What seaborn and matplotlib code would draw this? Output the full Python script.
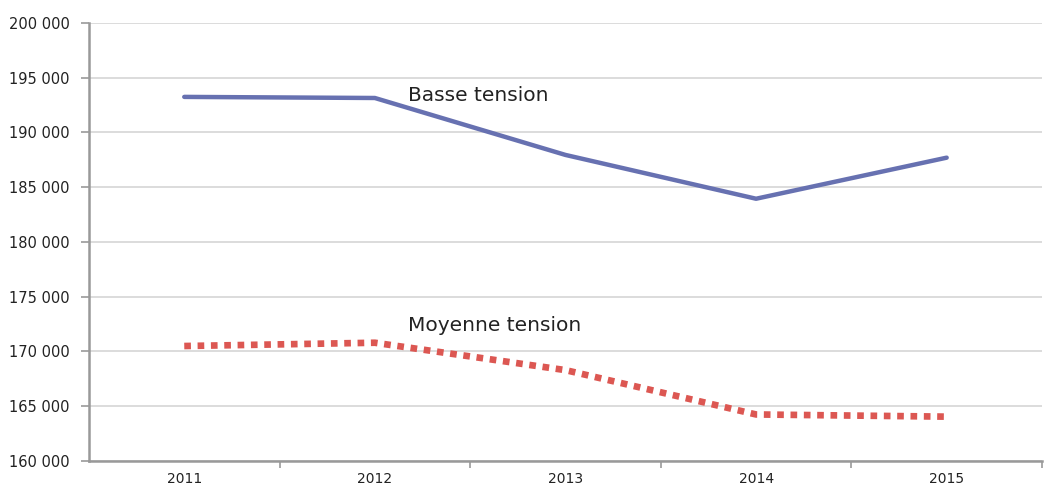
import matplotlib
matplotlib.use("Agg")
import matplotlib.pyplot as plt
from matplotlib.ticker import FuncFormatter, FixedLocator
import seaborn as sns
import pandas as pd

years = ["2011", "2012", "2013", "2014", "2015"]
basse = [193250, 193150, 187950, 183950, 187700]
moyenne = [170500, 170800, 168300, 164250, 164050]

df = pd.DataFrame({"annee": years, "Basse tension": basse, "Moyenne tension": moyenne})

sns.set_style("white")
plt.rcParams["font.family"] = ["DejaVu Sans"]

fig = plt.figure(figsize=(10.49, 4.91), dpi=100)
ax = fig.add_axes([0.0848, 0.0611, 0.9085, 0.8921])

sns.lineplot(data=df, x="annee", y="Basse tension", ax=ax, color="#6771b1",
             linewidth=3.2, sort=False)
sns.lineplot(data=df, x="annee", y="Moyenne tension", ax=ax, color="#dc5752",
             linewidth=4.8, sort=False, dashes=False)
ax.lines[-1].set_dashes([1, 1])
ax.lines[-1].set_dash_capstyle("butt")

ax.set_xlim(-0.5, 4.5)
ax.set_ylim(160000, 200000)
ax.set_yticks(range(160000, 200001, 5000))
ax.yaxis.set_major_formatter(FuncFormatter(lambda v, p: f"{int(v):,}".replace(",", " ")))
ax.xaxis.set_minor_locator(FixedLocator([0.5, 1.5, 2.5, 3.5, 4.5]))
ax.tick_params(axis="x", which="major", length=0, labelsize=10, pad=8, colors="#222222")
ax.tick_params(axis="x", which="minor", bottom=True, length=5, width=1.2,
               color="#999999", direction="out")
ax.tick_params(axis="y", length=6, width=1.2, color="#999999", labelsize=10.5, pad=8,
               labelcolor="#222222", left=True)

ax.grid(axis="y", color="#d6d6d6", linewidth=1.2)
ax.set_axisbelow(True)
for s in ["top", "right"]:
    ax.spines[s].set_visible(False)
for s in ["left", "bottom"]:
    ax.spines[s].set_color("#999999")
    ax.spines[s].set_linewidth(1.8)

ax.set_xlabel("")
ax.set_ylabel("")

ax.text(1.175, 193400, "Basse tension", fontsize=14.5, color="#222222", va="center", ha="left")
ax.text(1.175, 172350, "Moyenne tension", fontsize=14.5, color="#222222", va="center", ha="left")

fig.savefig("out.png", dpi=100)
